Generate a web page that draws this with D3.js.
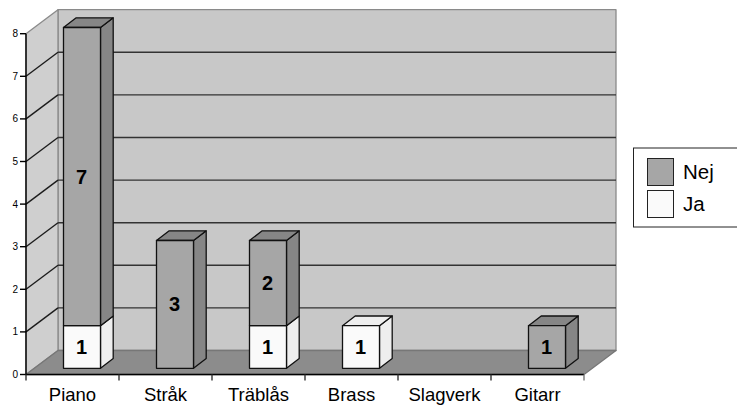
<!DOCTYPE html>
<html><head><meta charset="utf-8">
<script src="https://cdn.jsdelivr.net/npm/d3@7"></script>
<style>html,body{margin:0;padding:0;background:#fff}svg{display:block}text{font-family:"Liberation Sans",Arial,sans-serif;fill:#000}</style>
</head><body><div id="c"></div>
<script>
const categories = ["Piano","Stråk","Träblås","Brass","Slagverk","Gitarr"];
const ja  = [1,0,1,1,0,0];
const nej = [7,3,2,0,0,1];
const seriesNames = ["Nej","Ja"];
const yTicks = [0,1,2,3,4,5,6,7,8];

const W=737,H=405;
const svg=d3.select("#c").append("svg").attr("width",W).attr("height",H);
const x=d3.scaleBand().domain(categories).range([26,584]);
const y=d3.scaleLinear().domain([0,8]).range([374.5,33.7]);
const DX=32,DY=-24, bw=37, bdx=12.7, bdy=-9.7, fx=9.5, fy=-6.2;
const line=(a,b,c,d,col,w=1.4)=>svg.append("line").attr("x1",a).attr("y1",b).attr("x2",c).attr("y2",d).attr("stroke",col).attr("stroke-width",w);
const poly=(p,fill,stroke,w=1.3)=>svg.append("polygon").attr("points",p.map(q=>q.join(",")).join(" ")).attr("fill",fill).attr("stroke",stroke).attr("stroke-width",w).attr("stroke-linejoin","round");
const [x0,x1]=x.range(), y0=y(0), y8=y(8);

// walls and floor
poly([[x0+DX,y0+DY],[x1+DX,y0+DY],[x1+DX,y8+DY],[x0+DX,y8+DY]],"#c8c8c8","#8a8a8a");
poly([[x0,y0],[x0+DX,y0+DY],[x0+DX,y8+DY],[x0,y8]],"#cfcfcf","#8a8a8a");
yTicks.filter(v=>v>0&&v<8).forEach(v=>{
  line(x0,y(v),x0+DX,y(v)+DY,"#1c1c1c");
  line(x0+DX,y(v)+DY,x1+DX,y(v)+DY,"#333");
});
poly([[x0,y0],[x0+DX,y0+DY],[x1+DX,y0+DY],[x1,y0]],"#8c8c8c","#777");
// axes
line(x0,y0,x0,y8,"#000");
line(x0,y0,x1,y0,"#000");
yTicks.forEach(v=>{
  line(x0-6,y(v),x0,y(v),"#000");
  svg.append("text").attr("x",x0-8).attr("y",y(v)+3.5).attr("text-anchor","end").attr("font-size",10).text(v);
});
const edges=[...categories.map(c=>x(c)),x1];
edges.forEach(e=>line(e,y0,e,y0+6,e===x1?"#777":"#333"));
categories.forEach(c=>{
  svg.append("text").attr("x",x(c)+x.bandwidth()/2).attr("y",401).attr("text-anchor","middle").attr("font-size",18.5).text(c);
});

// bars
const colors={Ja:["#fafafa","#eeeeee"],Nej:["#a6a6a6","#868686"]};
function box(cat,from,to,name,showTop){
  if(to<=from) return;
  const L=x(cat)+x.bandwidth()/2+fx-bw/2, R=L+bw;
  const yb=y(from)+fy, yt=y(to)+fy;
  const [f,s]=colors[name];
  poly([[R,yb],[R+bdx,yb+bdy],[R+bdx,yt+bdy],[R,yt]],s,"#111");
  if(showTop) poly([[L,yt],[L+bdx,yt+bdy],[R+bdx,yt+bdy],[R,yt]],s,"#111");
  poly([[L,yb],[R,yb],[R,yt],[L,yt]],f,"#111");
  svg.append("text").attr("x",(L+R)/2-0.5).attr("y",(yb+yt)/2+7).attr("text-anchor","middle")
    .attr("font-size",20).attr("font-weight","bold").text(to-from);
}
categories.forEach((c,i)=>{
  box(c,0,ja[i],"Ja",nej[i]===0);
  box(c,ja[i],ja[i]+nej[i],"Nej",true);
});

// legend
svg.append("rect").attr("x",633.5).attr("y",148).attr("width",110).attr("height",79).attr("fill","#fff").attr("stroke","#222").attr("stroke-width",1);
seriesNames.forEach((n,i)=>{
  const yy=158.5+i*32;
  svg.append("rect").attr("x",647.5).attr("y",yy).attr("width",26).attr("height",27).attr("fill",colors[n][0]).attr("stroke","#222").attr("stroke-width",1);
  svg.append("text").attr("x",683).attr("y",yy+20.5).attr("font-size",20.5).text(n);
});
</script></body></html>
